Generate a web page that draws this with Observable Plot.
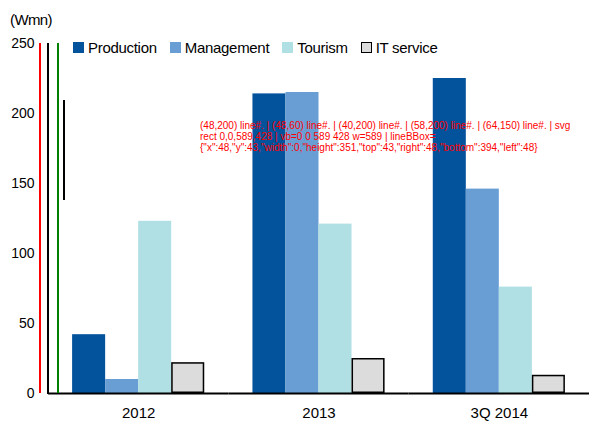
<!DOCTYPE html>
<html>
<head>
<meta charset="utf-8">
<script src="https://cdn.jsdelivr.net/npm/d3@7"></script>
<script src="https://cdn.jsdelivr.net/npm/@observablehq/plot@0.6"></script>
<style>
  body { margin: 0; background: #fff; }
  #wrap { position: relative; width: 589px; height: 428px; font-family: "Liberation Sans", Arial, sans-serif; color: #000; background: #fff; }
  #unit { position: absolute; left: 10px; top: 11px; font-size: 15px; letter-spacing: -0.6px; }
  #legend { position: absolute; left: 73px; top: 39px; display: flex; align-items: center; font-size: 15px; letter-spacing: -0.3px; }
  .item { display: flex; align-items: center; margin-right: 13px; }
  .sw { width: 11px; height: 11px; margin-right: 4px; box-sizing: border-box; }
  #chart svg { display: block; }
  #dbg { position: absolute; left: 200px; top: 120px; width: 380px; font-size: 10px; color: red; }
</style>
</head>
<body>
<div id="wrap">
  <div id="chart"></div>
  <div id="unit">(Wmn)</div>
  <div id="legend"></div>
  <div id="dbg"></div>
</div>
<script>
const years = ["2012", "2013", "3Q 2014"];
const series = ["Production", "Management", "Tourism", "IT service"];
const production = [42, 214, 225];
const management = [10, 215, 146];
const tourism = [123, 121, 76];
const itService = [22, 25, 13];
const colors = ["#02529c", "#699ed5", "#b0dfe4", "#dcdcdc"];
const yTicks = [0, 50, 100, 150, 200, 250];

const valuesBySeries = [production, management, tourism, itService];
const data = [];
years.forEach((yr, i) => {
  series.forEach((s, j) => data.push({year: yr, series: s, value: valuesBySeries[j][i]}));
});

const plot = Plot.plot({
  width: 589, height: 428, marginTop: 43, marginBottom: 35, marginLeft: 48, marginRight: 0,
  style: {fontFamily: "'Liberation Sans', Arial, sans-serif", fontSize: "15px", color: "#000"},
  fx: {domain: years, padding: 0, label: null, round: false},
  x: {domain: series, paddingInner: 0, paddingOuter: 0.73, axis: null, round: false},
  y: {domain: [0, 250], label: null},
  color: {domain: series, range: colors},
  marks: [
    Plot.barY(data, {fx: "year", x: "series", y: "value", fill: "series"}),
    Plot.barY(data.filter(d => d.series === "IT service"), {fx: "year", x: "series", y: "value", fill: "series", stroke: "#000", strokeWidth: 1.5, inset: 0.75}),
    Plot.ruleY([0], {stroke: "#000", strokeWidth: 2}),
    Plot.axisY(yTicks, {tickSize: 0, tickPadding: 14, fontSize: 14, label: null}),
    Plot.axisFx({anchor: "bottom", tickSize: 0, tickPadding: 14, fontSize: 15, label: null})
  ]
});
document.getElementById("chart").appendChild(plot);

const fx = plot.scale("fx");
const ys = plot.scale("y");
const svg = d3.select(plot);
const y0 = ys.apply(0);
const yTop = ys.apply(250);
const xLeft = +fx.apply(years[0]);
const g = svg.append("g");
g.append("line").attr("x1", xLeft).attr("x2", xLeft).attr("y1", yTop).attr("y2", y0 + 1).attr("stroke", "black").attr("stroke-width", 2);
g.append("line").attr("x1", 40).attr("x2", 40).attr("y1", yTop).attr("y2", y0).attr("stroke", "red").attr("stroke-width", 2);
g.append("line").attr("x1", 58).attr("x2", 58).attr("y1", yTop).attr("y2", y0).attr("stroke", "green").attr("stroke-width", 2);
g.append("line").attr("x1", 64).attr("x2", 64).attr("y1", 100).attr("y2", 200).attr("stroke", "black").attr("stroke-width", 2);

const out = [];
[[48, 200], [48, 60], [40, 200], [58, 200], [64, 150]].forEach(([px, py]) => {
  const el = document.elementFromPoint(px, py);
  out.push(`(${px},${py}) ${el ? el.tagName + "#" + el.id + "." + (el.getAttribute("class") || "") : "null"}`);
});
const r = plot.getBoundingClientRect();
out.push("svg rect " + [r.x, r.y, r.width, r.height].join(","));
out.push("vb=" + plot.getAttribute("viewBox") + " w=" + plot.getAttribute("width"));
out.push("lineBBox=" + JSON.stringify(g.select("line").node().getBoundingClientRect()));
document.getElementById("dbg").textContent = out.join(" | ");

const legend = d3.select("#legend");
series.forEach((s, j) => {
  const item = legend.append("div").attr("class", "item");
  item.append("div").attr("class", "sw").style("background", colors[j]).style("border", s === "IT service" ? "1px solid #000" : "none");
  item.append("span").text(s);
});
</script>
</body>
</html>
